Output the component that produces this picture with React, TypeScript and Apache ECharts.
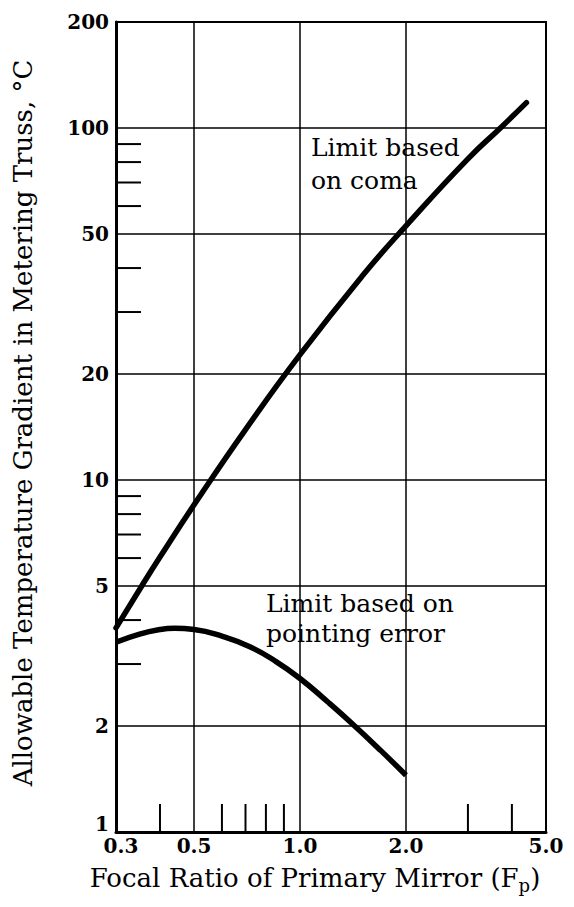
import React, { useEffect, useRef } from 'react';
import * as echarts from 'echarts';

const xTicks = [0.3, 0.5, 1.0, 2.0, 5.0];
const yTicks = [1, 2, 5, 10, 20, 50, 100, 200];
const xMinorTicks = [0.4, 0.6, 0.7, 0.8, 0.9, 3, 4];
const yMinorTicks = [3, 4, 6, 7, 8, 9, 30, 40, 60, 70, 80, 90];

const comaX = [0.3, 0.355, 0.4, 0.5, 0.7, 1.0, 1.5, 2.0, 3.0, 3.75, 4.4];
const comaY = [3.8, 5.0, 6.04, 8.5, 13.9, 22.7, 37.9, 52.7, 81.7, 101, 118];
const pointingX = [0.3, 0.35, 0.4, 0.44, 0.5, 0.6, 0.72, 0.85, 1.0, 1.2, 1.4, 1.7, 2.0];
const pointingY = [3.46, 3.65, 3.76, 3.79, 3.76, 3.6, 3.36, 3.06, 2.73, 2.34, 2.04, 1.7, 1.45];

const FONT = '"DejaVu Serif", serif';

export default function App() {
  const ref = useRef<HTMLDivElement>(null);
  useEffect(() => {
    if (!ref.current) return;
    const chart = echarts.init(ref.current, undefined, { renderer: 'svg' });
    const labelBase = { fontFamily: FONT, fontWeight: 'bold' as const, fontSize: 20, color: '#000' };
    chart.setOption({
      animation: false,
      backgroundColor: '#fff',
      grid: { left: 116, right: 28, top: 22, bottom: 75, show: true, borderColor: '#000', borderWidth: 2, backgroundColor: 'transparent' },
      xAxis: {
        type: 'log', logBase: 10, min: 0.3, max: 5,
        axisLine: { show: true, onZero: false, lineStyle: { color: '#000', width: 3 } },
        axisTick: { show: false, customValues: xTicks },
        axisLabel: {
          ...labelBase, margin: 4, customValues: xTicks, showMinLabel: true, showMaxLabel: true,
          formatter: (v: number) => (v < 0.35 ? '{a|0.3}' : v.toFixed(1)),
          rich: { a: { ...labelBase, padding: [0, 0, 0, 10] } },
        },
        splitLine: { show: true, lineStyle: { color: '#000', width: 1.5 } },
        minorTick: { show: false }, minorSplitLine: { show: false },
      },
      yAxis: {
        type: 'log', logBase: 10, min: 1, max: 200,
        axisLine: { show: true, onZero: false, lineStyle: { color: '#000', width: 3 } },
        axisTick: { show: false, customValues: yTicks },
        axisLabel: {
          ...labelBase, margin: 7, customValues: yTicks, showMinLabel: true, showMaxLabel: true,
          formatter: (v: number) => (Math.round(v) === 1 ? '{one|1}' : String(Math.round(v))),
          rich: { one: { ...labelBase, padding: [0, 0, 16, 0] } },
        },
        splitLine: { show: true, lineStyle: { color: '#000', width: 1.5 } },
      },
      series: [
        {
          type: 'line', name: 'coma', data: comaX.map((x, i) => [x, comaY[i]]),
          symbol: 'none', smooth: 0.5, lineStyle: { color: '#000', width: 5.5, cap: 'round' }, silent: true,
        },
        {
          type: 'line', name: 'pointing', data: pointingX.map((x, i) => [x, pointingY[i]]),
          symbol: 'none', smooth: 0.5, lineStyle: { color: '#000', width: 5.5, cap: 'butt' }, silent: true,
        },
        {
          type: 'custom', name: 'yMinor', silent: true, clip: false,
          data: yMinorTicks.map((v) => [xTicks[0], v]),
          renderItem: (_p: any, api: any) => {
            const p = api.coord([api.value(0), api.value(1)]);
            return { type: 'line', shape: { x1: p[0], y1: p[1], x2: p[0] + 25, y2: p[1] }, style: { stroke: '#000', lineWidth: 2 } };
          },
        },
        {
          type: 'custom', name: 'xMinor', silent: true, clip: false,
          data: xMinorTicks.map((v) => [v, yTicks[0]]),
          renderItem: (_p: any, api: any) => {
            const p = api.coord([api.value(0), api.value(1)]);
            return { type: 'line', shape: { x1: p[0], y1: p[1], x2: p[0], y2: p[1] - 28 }, style: { stroke: '#000', lineWidth: 2 } };
          },
        },
      ],
      graphic: [
        {
          type: 'text', x: 311, y: 131,
          style: { text: 'Limit based\non coma', font: `25px ${FONT}`, fill: '#000', lineHeight: 33, textVerticalAlign: 'top' },
        },
        {
          type: 'text', x: 266, y: 588,
          style: { text: 'Limit based on\npointing error', font: `25px ${FONT}`, fill: '#000', lineHeight: 30, textVerticalAlign: 'top' },
        },
        {
          type: 'text', x: 23, y: 423, rotation: Math.PI / 2,
          style: { text: 'Allowable Temperature Gradient in Metering Truss, °C', font: `26px ${FONT}`, fill: '#000', textAlign: 'center', textVerticalAlign: 'middle' },
        },
        {
          type: 'text', x: 315, y: 865,
          style: {
            text: '{n|Focal Ratio of Primary Mirror (F}{s|p}{n|)}',
            textAlign: 'center', textVerticalAlign: 'top', fill: '#000',
            rich: {
              n: { fontFamily: FONT, fontSize: 26, color: '#000', verticalAlign: 'top' },
              s: { fontFamily: FONT, fontSize: 18, color: '#000', verticalAlign: 'top', padding: [11, 0, 0, 0] },
            },
          },
        },
      ],
    });
    return () => chart.dispose();
  }, []);
  return <div ref={ref} style={{ position: 'absolute', left: 0, top: 0, width: 574, height: 907, background: '#fff' }} />;
}
